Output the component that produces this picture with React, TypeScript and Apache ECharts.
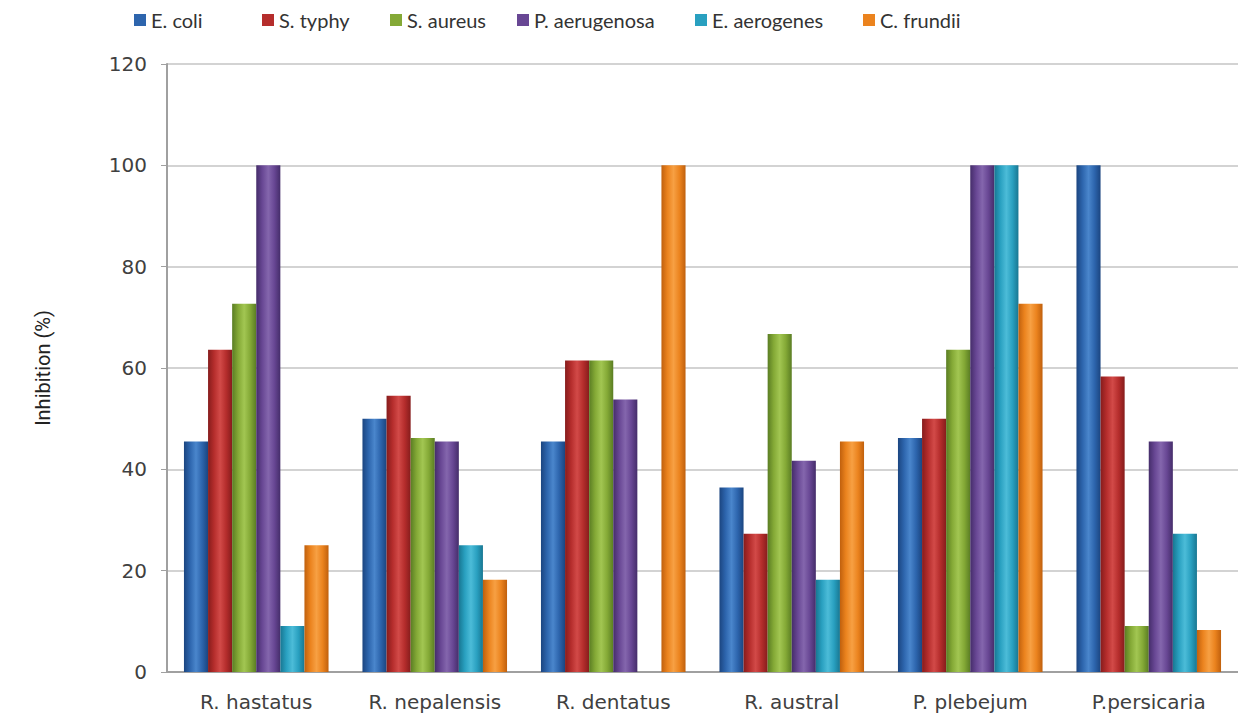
import React, { useEffect, useRef } from "react";
import * as echarts from "echarts";

const categories = ["R. hastatus", "R. nepalensis", "R. dentatus", "R. austral", "P. plebejum", "P.persicaria"];
const seriesNames = ["E. coli", "S. typhy", "S. aureus", "P. aerugenosa", "E. aerogenes", "C. frundii"];

const eColi = [45.5, 50, 45.5, 36.4, 46.2, 100];
const sTyphy = [63.6, 54.5, 61.5, 27.3, 50, 58.3];
const sAureus = [72.7, 46.2, 61.5, 66.7, 63.6, 9.1];
const pAerugenosa = [100, 45.5, 53.8, 41.7, 100, 45.5];
const eAerogenes = [9.1, 25, 0, 18.2, 100, 27.3];
const cFrundii = [25, 18.2, 100, 45.5, 72.7, 8.3];

const seriesValues = [eColi, sTyphy, sAureus, pAerugenosa, eAerogenes, cFrundii];

const yTicks = [0, 20, 40, 60, 80, 100, 120];

// [dark edge, mid, light centre]
const palettes = [
  ["#1b4580", "#2d65ad", "#4a86cc"],
  ["#861c1c", "#b52d2c", "#d24a48"],
  ["#5a7d23", "#84a936", "#a2c652"],
  ["#452d6a", "#684794", "#8466ad"],
  ["#187792", "#29a0c0", "#4cbcd8"],
  ["#c0600d", "#eb831e", "#f7a043"],
];

const legendX = [129, 257, 385, 512, 690, 858];

export default function App() {
  const ref = useRef<HTMLDivElement>(null);
  useEffect(() => {
    if (!ref.current) return;
    const chart = echarts.init(ref.current, undefined, { renderer: "svg" });
    const series = seriesNames.map((name, i) => {
      const [d, m, l] = palettes[i];
      return {
        name,
        type: "bar",
        data: seriesValues[i],
        barGap: "0%",
        barCategoryGap: "19%",
        itemStyle: {
          color: new echarts.graphic.LinearGradient(0, 0, 1, 0, [
            { offset: 0, color: d },
            { offset: 0.25, color: m },
            { offset: 0.5, color: l },
            { offset: 0.75, color: m },
            { offset: 1, color: d },
          ]),
        },
      };
    });
    chart.setOption({
      animation: false,
      backgroundColor: "#ffffff",
      legend: seriesNames.map((n, i) => ({
        data: [{ name: n, itemStyle: { color: palettes[i][1] } }],
        left: legendX[i],
        top: 5,
        icon: "rect",
        itemWidth: 12,
        itemHeight: 12,
        itemGap: 0,
        textStyle: { fontFamily: "Lato", fontSize: 20, color: "#333" },
        selectedMode: false,
      })),
      grid: { left: 167, top: 64, width: 1080, height: 608, containLabel: false },
      xAxis: {
        type: "category",
        data: categories,
        axisLine: { lineStyle: { color: "#a0a0a0", width: 2 } },
        axisTick: { show: false },
        axisLabel: {
          fontFamily: "DejaVu Sans",
          fontSize: 20,
          color: "#404040",
          margin: 20,
        },
      },
      yAxis: {
        type: "value",
        min: 0,
        max: 120,
        interval: 20,
        name: "Inhibition (%)",
        nameLocation: "middle",
        nameGap: 114,
        nameTextStyle: {
          fontFamily: "Liberation Sans Narrow, Roboto, sans-serif",
          fontSize: 20,
          color: "#222",
        },
        axisLine: { show: true, lineStyle: { color: "#a0a0a0", width: 2 } },
        axisTick: { show: true, length: 6, lineStyle: { color: "#a0a0a0" } },
        axisLabel: {
          fontFamily: "DejaVu Sans",
          fontSize: 20,
          color: "#404040",
          margin: 20,
          formatter: (v: number) => (yTicks.includes(v) ? String(v) : ""),
        },
        splitLine: { lineStyle: { color: "#c4c4c4", width: 1.5 } },
      },
      series,
    });
    return () => chart.dispose();
  }, []);
  return (
    <div
      ref={ref}
      style={{ position: "absolute", left: 0, top: 0, width: 1238, height: 715 }}
    />
  );
}
